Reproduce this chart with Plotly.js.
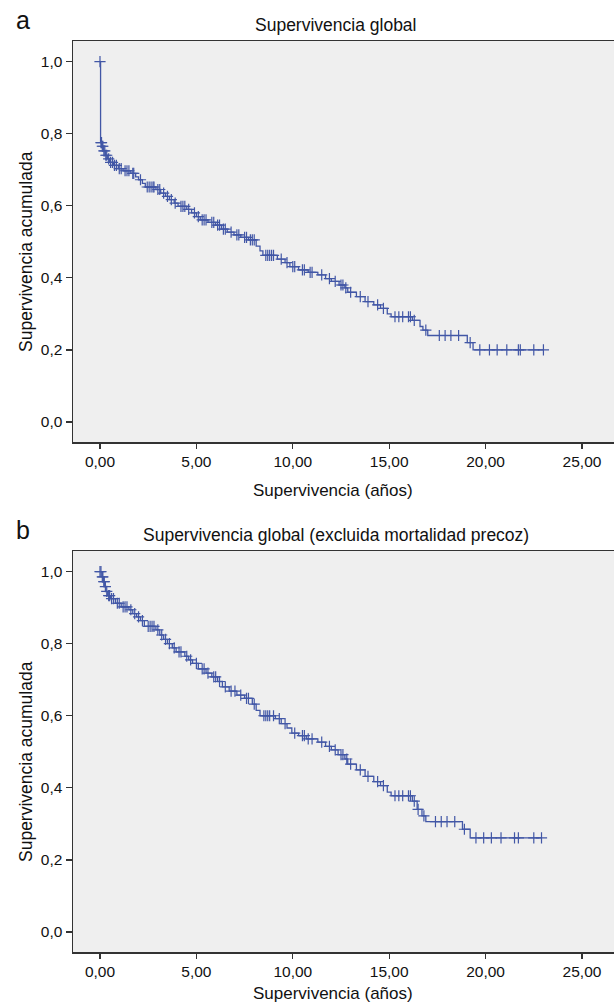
<!DOCTYPE html>
<html><head><meta charset="utf-8">
<script src="https://cdn.plot.ly/plotly-3.0.1.min.js"></script>
<style>html,body{margin:0;padding:0;background:#fff}</style>
</head><body><div id="chart" style="width:614px;height:1004px"></div>
<script>
// ---- tick labels ----
const xTickVals = [0, 5, 10, 15, 20, 25];
const xTickText = ['0,00', '5,00', '10,00', '15,00', '20,00', '25,00'];
const yTickVals = [0, 0.2, 0.4, 0.6, 0.8, 1.0];
const yTickText = ['0,0', '0,2', '0,4', '0,6', '0,8', '1,0'];

// ---- panel a: Supervivencia global (Kaplan-Meier steps) ----
const aStepTime = [0, 0.03, 0.1, 0.18, 0.28, 0.38, 0.5, 0.7, 0.95, 1.2, 1.6, 1.85, 2.0, 2.2, 2.35, 2.9, 3.15, 3.4, 3.6, 3.85, 4.05, 4.5, 4.75, 5.0, 5.2, 5.6, 6.0, 6.3, 6.6, 6.95, 7.3, 7.7, 8.1, 8.3, 8.45, 9.2, 9.6, 9.85, 10.3, 10.8, 11.3, 11.7, 12.0, 12.4, 12.7, 12.85, 13.3, 13.75, 14.2, 14.55, 14.9, 15.1, 16.2, 16.6, 16.75, 17.0, 19.05, 19.35, 23.0];
const aStepSurv = [1.0, 0.775, 0.765, 0.752, 0.740, 0.730, 0.720, 0.712, 0.703, 0.697, 0.690, 0.680, 0.672, 0.662, 0.652, 0.645, 0.635, 0.626, 0.617, 0.607, 0.598, 0.590, 0.580, 0.570, 0.561, 0.554, 0.546, 0.535, 0.527, 0.519, 0.512, 0.505, 0.488, 0.475, 0.462, 0.452, 0.442, 0.431, 0.422, 0.415, 0.408, 0.398, 0.390, 0.380, 0.372, 0.360, 0.348, 0.334, 0.325, 0.315, 0.300, 0.292, 0.282, 0.265, 0.255, 0.240, 0.220, 0.200, 0.200];
const aCensorTime = [0, 0.05, 0.08, 0.12, 0.15, 0.2, 0.25, 0.3, 0.35, 0.45, 0.55, 0.65, 0.75, 0.85, 1.0, 1.1, 1.3, 1.4, 1.5, 1.7, 1.75, 2.1, 2.45, 2.55, 2.65, 2.75, 2.8, 3.0, 3.1, 3.3, 3.5, 3.7, 3.9, 4.2, 4.3, 4.4, 4.6, 4.9, 5.1, 5.3, 5.4, 5.5, 5.8, 5.9, 6.1, 6.2, 6.4, 6.5, 6.8, 7.1, 7.2, 7.5, 7.6, 7.8, 7.9, 8.0, 8.6, 8.7, 8.8, 8.9, 9.0, 9.4, 9.7, 10.0, 10.1, 10.5, 10.6, 10.9, 11.0, 11.5, 11.9, 12.2, 12.5, 12.6, 12.75, 13.0, 13.5, 13.9, 14.4, 14.7, 15.3, 15.5, 15.7, 16.0, 16.1, 16.3, 16.9, 17.6, 17.9, 18.2, 18.6, 19.2, 19.7, 20.2, 20.6, 21.1, 21.7, 21.8, 22.5, 23.0];

// ---- panel b: excluida mortalidad precoz ----
const bStepTime = [0, 0.1, 0.18, 0.25, 0.3, 0.4, 0.55, 0.8, 1.1, 1.5, 1.7, 1.9, 2.1, 2.3, 2.9, 3.1, 3.3, 3.5, 3.75, 3.95, 4.4, 4.6, 4.8, 5.1, 5.5, 5.8, 6.1, 6.35, 6.7, 7.1, 7.5, 7.9, 8.1, 8.3, 9.1, 9.4, 9.7, 9.95, 10.3, 10.7, 11.3, 11.7, 12.0, 12.35, 12.7, 12.85, 13.3, 13.75, 14.2, 14.55, 14.9, 15.1, 16.2, 16.45, 16.7, 16.9, 18.8, 19.2, 22.9];
const bStepSurv = [1.0, 0.985, 0.972, 0.958, 0.945, 0.933, 0.925, 0.912, 0.902, 0.894, 0.883, 0.874, 0.864, 0.848, 0.838, 0.824, 0.812, 0.800, 0.788, 0.777, 0.765, 0.755, 0.745, 0.730, 0.718, 0.708, 0.695, 0.680, 0.668, 0.657, 0.648, 0.632, 0.615, 0.600, 0.592, 0.578, 0.566, 0.552, 0.545, 0.536, 0.527, 0.515, 0.505, 0.492, 0.480, 0.466, 0.450, 0.432, 0.417, 0.406, 0.388, 0.378, 0.363, 0.340, 0.322, 0.306, 0.285, 0.261, 0.261];
const bCensorTime = [0, 0.05, 0.12, 0.15, 0.2, 0.22, 0.28, 0.35, 0.45, 0.5, 0.6, 0.7, 0.9, 1.0, 1.2, 1.3, 1.4, 1.6, 1.8, 2.0, 2.2, 2.5, 2.6, 2.7, 2.8, 3.0, 3.2, 3.4, 3.6, 3.85, 4.1, 4.2, 4.5, 4.7, 5.0, 5.3, 5.4, 5.6, 5.9, 6.0, 6.2, 6.5, 6.8, 7.0, 7.3, 7.6, 7.7, 8.0, 8.5, 8.6, 8.7, 8.8, 9.0, 9.3, 9.6, 10.1, 10.5, 10.6, 10.8, 11.0, 11.5, 11.9, 12.2, 12.5, 12.6, 12.8, 13.0, 13.5, 13.9, 14.4, 14.7, 15.3, 15.5, 15.7, 16.0, 16.1, 16.3, 16.5, 16.8, 17.4, 17.7, 18.0, 18.4, 18.9, 19.5, 19.9, 20.3, 20.8, 21.5, 21.7, 22.5, 22.9];

// ---- texts ----
const panelLetters = ['a', 'b'];
const panelTitles = ['Supervivencia global', 'Supervivencia global (excluida mortalidad precoz)'];
const xTitle = 'Supervivencia (años)';
const yTitle = 'Supervivencia acumulada';

function survAt(times, survs, t) {
  let s = survs[0];
  for (let i = 0; i < times.length; i++) { if (times[i] <= t) s = survs[i]; }
  return s;
}

const LINE = '#4257a6';
const FONT = '"Liberation Sans", Arial, sans-serif';
const W = 614, H = 1004;
const px = v => v / W, py = v => 1 - v / H;

function curve(times, survs, xa, ya) {
  return { x: times, y: survs, xaxis: xa, yaxis: ya, type: 'scatter', mode: 'lines',
    line: { shape: 'hv', color: LINE, width: 1.3 }, hoverinfo: 'skip', showlegend: false };
}
function censors(ct, times, survs, xa, ya) {
  return { x: ct, y: ct.map(t => survAt(times, survs, t)), xaxis: xa, yaxis: ya, type: 'scatter', mode: 'markers',
    marker: { symbol: 'cross-thin', size: 8, line: { color: LINE, width: 1.2 } }, hoverinfo: 'skip', showlegend: false };
}

const data = [
  curve(aStepTime, aStepSurv, 'x', 'y'),
  censors(aCensorTime, aStepTime, aStepSurv, 'x', 'y'),
  curve(bStepTime, bStepSurv, 'x2', 'y2'),
  censors(bCensorTime, bStepTime, bStepSurv, 'x2', 'y2')
];

const TICKFONT = { family: FONT, size: 15.5, color: '#111' };
const xCommon = {
  range: [-1.40, 26.66], tickvals: xTickVals, ticktext: xTickText,
  showline: true, linecolor: '#333', linewidth: 1.5, mirror: true,
  ticks: 'outside', ticklen: 5, tickwidth: 1.3, tickcolor: '#333',
  showgrid: false, zeroline: false, fixedrange: true, tickfont: TICKFONT
};
const yCommon = {
  range: [-0.0555, 1.057], tickvals: yTickVals, ticktext: yTickText,
  showline: true, linecolor: '#333', linewidth: 1.5, mirror: false,
  ticks: 'outside', ticklen: 6, tickwidth: 1.3, tickcolor: '#333',
  showgrid: false, zeroline: false, fixedrange: true, tickfont: TICKFONT
};

const xDom = [px(73), 1];
const layout = {
  width: W, height: H,
  margin: { l: 0, r: 0, t: 0, b: 0 },
  paper_bgcolor: '#ffffff',
  plot_bgcolor: '#efefef',
  showlegend: false,
  xaxis: Object.assign({}, xCommon, { domain: xDom, anchor: 'y' }),
  yaxis: Object.assign({}, yCommon, { domain: [py(442), py(41)], anchor: 'x' }),
  xaxis2: Object.assign({}, xCommon, { domain: xDom, anchor: 'y2' }),
  yaxis2: Object.assign({}, yCommon, { domain: [py(952), py(551)], anchor: 'x2' }),
  annotations: [],
  font: { family: FONT, color: '#111' }
};

const offsets = [0, 510];
offsets.forEach((o, i) => {
  layout.annotations.push(
    { text: panelLetters[i], xref: 'paper', yref: 'paper', x: px(23), y: py(20 + o), xanchor: 'center', yanchor: 'middle', showarrow: false, font: { family: FONT, size: 25, color: '#111' } },
    { text: panelTitles[i], xref: 'paper', yref: 'paper', x: px(336), y: py(25 + o), xanchor: 'center', yanchor: 'middle', showarrow: false, font: { family: FONT, size: 17.5, color: '#111' } },
    { text: xTitle, xref: 'paper', yref: 'paper', x: px(333), y: py(490 + o), xanchor: 'center', yanchor: 'middle', showarrow: false, font: { family: FONT, size: 17, color: '#111' } },
    { text: yTitle, xref: 'paper', yref: 'paper', x: px(26), y: py(252 + o), xanchor: 'center', yanchor: 'middle', textangle: -90, showarrow: false, font: { family: FONT, size: 17.5, color: '#111' } }
  );
});
// keep the bottom axis title inside the page
layout.annotations[layout.annotations.length - 2].y = py(993);

Plotly.newPlot('chart', data, layout, { displayModeBar: false, staticPlot: true });
</script></body></html>
